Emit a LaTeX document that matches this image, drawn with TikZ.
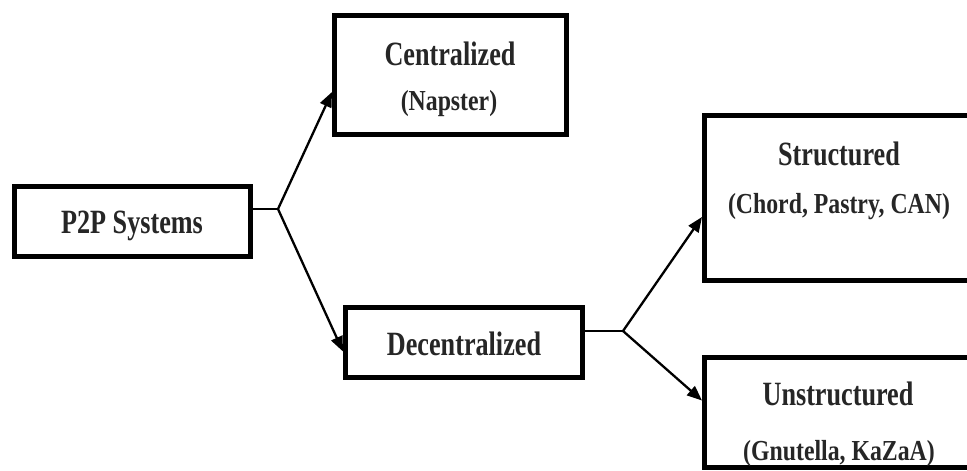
\documentclass[tikz,border=0pt]{standalone}
\usepackage{fontspec}
\newfontfamily\lblbig{Liberation Serif}[FakeStretch=0.77]
\newfontfamily\lblsmall{Liberation Serif}[FakeStretch=0.82]
\usetikzlibrary{arrows.meta}
\tikzset{
  box/.style={draw=black, line width=5pt, fill=white, inner sep=0pt},
  big/.style={font=\lblbig\bfseries\fontsize{34}{34}\selectfont, anchor=base, inner sep=0pt, text=black!85},
  small/.style={font=\lblsmall\bfseries\fontsize{29}{29}\selectfont, anchor=base, inner sep=0pt, text=black!85},
  conn/.style={line width=2.3pt, line join=miter},
  arr/.style={conn, -{Triangle[length=15pt, width=12pt]}}
}
\begin{document}
\begin{tikzpicture}[x=1pt,y=-1pt]
\useasboundingbox (0,0) rectangle (967,471);
\clip (0,0) rectangle (967,471);
% boxes
\node[box, minimum width=236pt, minimum height=70pt] (p2p) at (132.5,221.5) {};
\node[box, minimum width=232pt, minimum height=119pt] (cent) at (450.5,75) {};
\node[box, minimum width=237pt, minimum height=70pt] (dec) at (464,342.5) {};
\node[box, minimum width=269pt, minimum height=165pt] (str) at (839,198) {};
\node[box, minimum width=269pt, minimum height=110pt] (uns) at (839,412.5) {};
% texts
\node[big] (tp2p) at (132,233) {P2P Systems};
\node[big] (tcent) at (450,65) {Centralized};
\node[small] (tnap) at (449,110) {(Napster)};
\node[big] (tdec) at (464,355) {Decentralized};
\node[big] (tstr) at (839,165) {Structured};
\node[small] (tchord) at (839,213) {(Chord, Pastry, CAN)};
\node[big] (tuns) at (838,405) {Unstructured};
\node[small] (tgnu) at (839,460) {(Gnutella, KaZaA)};
% connectors
\coordinate (j1) at (278,209);
\coordinate (j2) at (623,331);
\draw[conn] ([yshift=12.5pt]p2p.east) -- (j1);
\draw[arr] (j1) -- ([yshift=-17pt]cent.west);
\draw[arr] (j1) -- ([yshift=-9pt]dec.west);
\draw[conn] ([yshift=11.5pt]dec.east) -- (j2);
\draw[arr] (j2) -- ([yshift=-19pt]str.west);
\draw[arr] (j2) -- ([yshift=12pt]uns.west);
\end{tikzpicture}
\end{document}
